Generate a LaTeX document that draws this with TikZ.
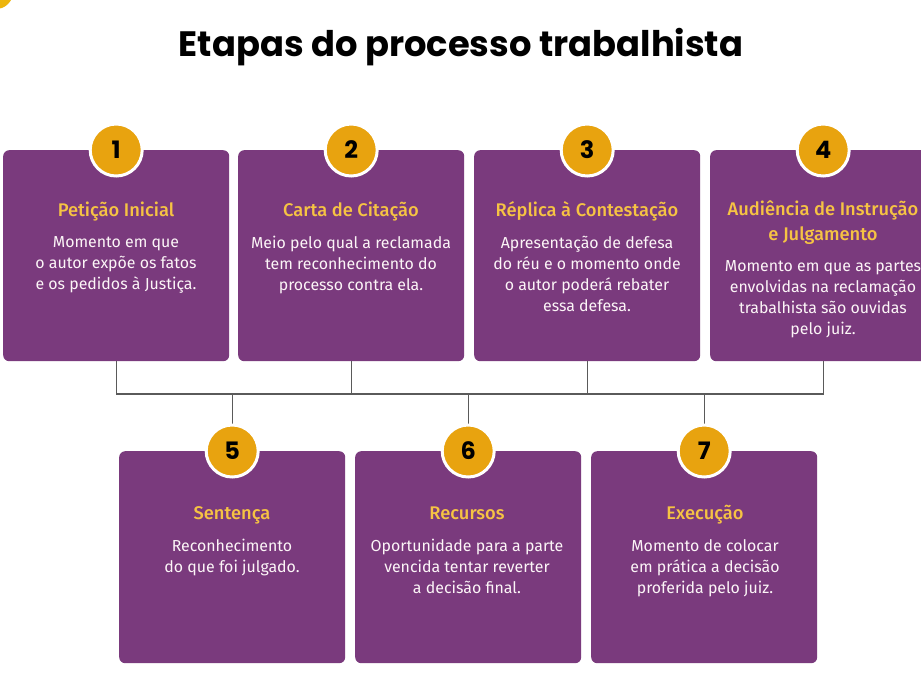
\documentclass[tikz,border=0pt]{standalone}
\usepackage{fontspec}
\setmainfont{Fira Sans}[BoldFont={Fira Sans Medium}]
\newfontfamily\titlefont{Poppins}
\usetikzlibrary{positioning}
\definecolor{boxpurple}{HTML}{7A3A7D}
\definecolor{gold}{HTML}{E8A30F}
\definecolor{headyellow}{HTML}{F6C343}
\definecolor{linegray}{HTML}{5A5A5A}
\begin{document}
\begin{tikzpicture}[x=1pt,y=-1pt,
  stepbox/.style={fill=boxpurple, rounded corners=6pt, minimum width=226pt, minimum height=211pt, inner sep=0pt, anchor=north west},
  numcircle/.style={circle, fill=gold, draw=white, line width=3pt, minimum size=52pt, inner sep=0pt, font=\titlefont\bfseries\fontsize{24}{24}\selectfont, text=black},
  head/.style={text=headyellow, font=\fontsize{18.3}{25}\selectfont\bfseries, align=center},
  headone/.style={head, text height=13pt, text depth=4pt},
  body/.style={text=white!96!purple, font=\fontsize{15.9}{21}\selectfont, align=center},
  conn/.style={draw=linegray, line width=1.3pt}]
\useasboundingbox (0,0) rectangle (921,694);
\fill[white] (0,0) rectangle (921,694);
\fill[gold!80!yellow] (-4,-8) circle (17);
\node (title) at (461,47) {\titlefont\bfseries\fontsize{35.3}{36}\selectfont Etapas do processo trabalhista};
% top boxes
\node[stepbox] (b1) at (3,150) {};
\node[stepbox] (b2) at (238,150) {};
\node[stepbox] (b3) at (474,150) {};
\node[stepbox] (b4) at (710,150) {};
% bottom boxes
\node[stepbox, minimum height=212pt] (b5) at (119,451) {};
\node[stepbox, minimum height=212pt] (b6) at (355,451) {};
\node[stepbox, minimum height=212pt] (b7) at (591,451) {};
% bus
\coordinate (bus) at (0,394);
\draw[conn] (b1.south) -- (b1.south |- bus) -- (b4.south |- bus) -- (b4.south);
\draw[conn] (b2.south) -- (b2.south |- bus);
\draw[conn] (b3.south) -- (b3.south |- bus);
\draw[conn] (b5.north |- bus) -- (b5.north);
\draw[conn] (b6.north |- bus) -- (b6.north);
\draw[conn] (b7.north |- bus) -- (b7.north);
% circles
\node[numcircle] (c1) at (b1.north) {1};
\node[numcircle] (c2) at (b2.north) {2};
\node[numcircle] (c3) at (b3.north) {3};
\node[numcircle] (c4) at (b4.north) {4};
\node[numcircle] (c5) at (b5.north) {5};
\node[numcircle] (c6) at (b6.north) {6};
\node[numcircle] (c7) at (b7.north) {7};
% texts top
\node[headone] (h1) at (116,212) {Petição Inicial};
\node[body, anchor=north] (t1) at (116,233) {Momento em que\\o autor expõe os fatos\\e os pedidos à Justiça.};
\node[headone] (h2) at (351,212) {Carta de Citação};
\node[body, anchor=north] (t2) at (351,233) {Meio pelo qual a reclamada\\tem reconhecimento do\\processo contra ela.};
\node[headone] (h3) at (587,212) {Réplica à Contestação};
\node[body, anchor=north] (t3) at (587,233) {Apresentação de defesa\\do réu e o momento onde\\o autor poderá rebater\\essa defesa.};
\node[head] (h4) at (823,223) {Audiência de Instrução\\e Julgamento};
\node[body, anchor=north] (t4) at (823,257) {Momento em que as partes\\envolvidas na reclamação\\trabalhista são ouvidas\\pelo juiz.};
% texts bottom
\node[headone] (h5) at (232,515) {Sentença};
\node[body, anchor=north] (t5) at (232,536) {Reconhecimento\\do que foi julgado.};
\node[headone] (h6) at (467,515) {Recursos};
\node[body, anchor=north] (t6) at (467,536) {Oportunidade para a parte\\vencida tentar reverter\\a decisão final.};
\node[headone] (h7) at (705,515) {Execução};
\node[body, anchor=north] (t7) at (705,536) {Momento de colocar\\em prática a decisão\\proferida pelo juiz.};
\end{tikzpicture}
\end{document}
